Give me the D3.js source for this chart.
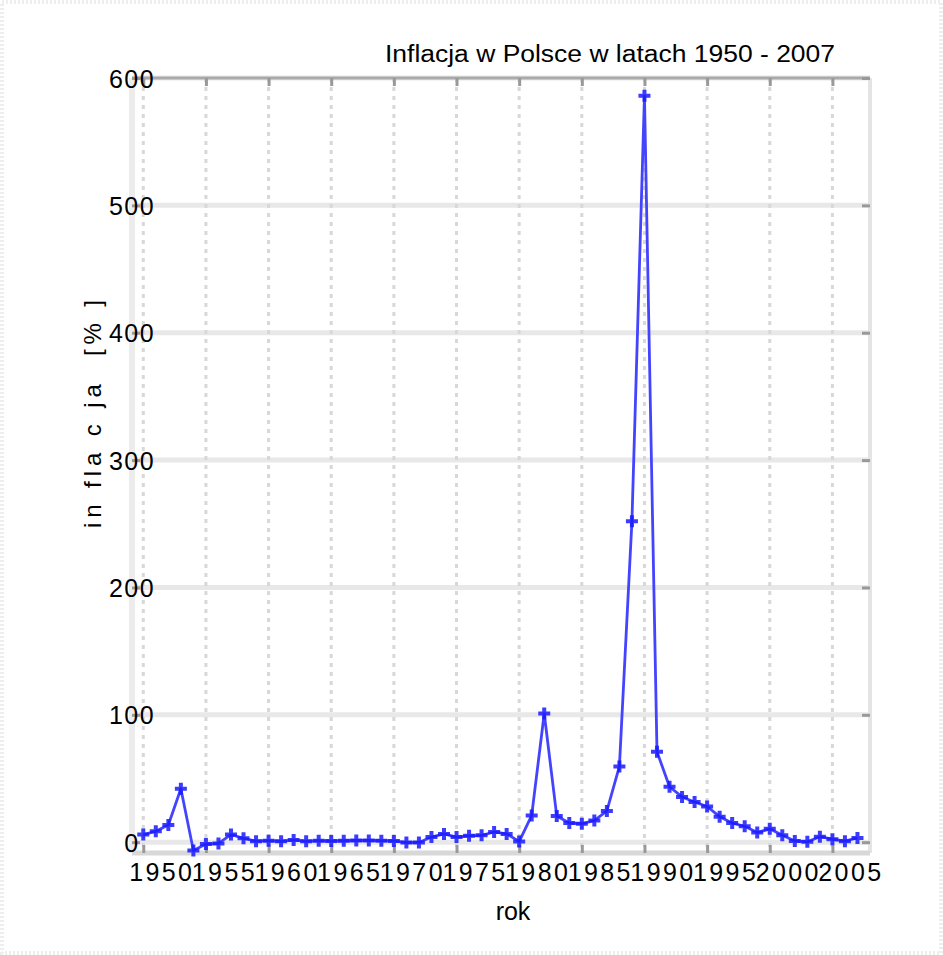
<!DOCTYPE html>
<html lang="pl">
<head>
<meta charset="UTF-8">
<title>Inflacja w Polsce</title>
<script src="https://cdn.jsdelivr.net/npm/d3@7"></script>
<style>
  body { margin: 0; background: #fff; }
  text { font-family: "Liberation Sans", "DejaVu Sans", sans-serif; fill: #000; }
</style>
</head>
<body>
<script>
// data
const years = d3.range(1950, 2008);
const inflation = [
  6, 8.5, 13.5, 42, -6.5, -1.5, -1, 6, 3, 0.8,
  1.2, 0.7, 1.8, 0.7, 1.2, 0.9, 1.1, 1.3, 1.4, 1.2,
  1.0, -0.3, -0.2, 4, 6.5, 4, 5, 5.4, 8, 6.5,
  0.5, 21, 101, 20.5, 15, 14.5, 17, 24.5, 59.5, 252,
  586, 71, 43.5, 35.5, 31.5, 28, 20, 15, 12.5, 7.5,
  10.5, 5.5, 1, 0.3, 4.3, 2.3, 0.8, 3.3
];
const xTicks = d3.range(1950, 2006, 5);
const yTicks = [0, 100, 200, 300, 400, 500, 600];

const title = "Inflacja w Polsce w latach 1950 - 2007";
const xLabel = "rok";
const yLabel = "in fla c ja  [% ]";

const W = 943, H = 955;
const mLeft = 132, mRight = 870, mTop = 78, mBottom = 853;

const svg = d3.select("body").append("svg")
  .attr("width", W).attr("height", H);

// faint dotted frame around the picture
svg.append("rect")
  .attr("x", 2).attr("y", 2).attr("width", W - 4).attr("height", H - 4)
  .attr("fill", "none").attr("stroke", "#eeeeee").attr("stroke-width", 4)
  .attr("stroke-dasharray", "2,2");

const x = d3.scaleLinear().domain([1949.1, 2008]).range([mLeft, mRight]);
const y = d3.scaleLinear().domain([-8.5, 600]).range([mBottom, mTop]);

// grid: horizontal
svg.append("g")
  .selectAll("line").data(yTicks).join("line")
  .attr("x1", mLeft).attr("x2", mRight)
  .attr("y1", d => y(d)).attr("y2", d => y(d))
  .attr("stroke", "#e8e8e8").attr("stroke-width", 5);

// grid: vertical, dashed
svg.append("g")
  .selectAll("line").data(xTicks).join("line")
  .attr("x1", d => x(d)).attr("x2", d => x(d))
  .attr("y1", mTop).attr("y2", mBottom)
  .attr("stroke", "#d8d8d8").attr("stroke-width", 3)
  .attr("stroke-dasharray", "4,5");

// box
svg.append("line").attr("x1", mLeft).attr("x2", mLeft).attr("y1", mTop).attr("y2", mBottom)
  .attr("stroke", "#ececec").attr("stroke-width", 6);
svg.append("line").attr("x1", mRight).attr("x2", mRight).attr("y1", mTop).attr("y2", mBottom)
  .attr("stroke", "#e4e4e4").attr("stroke-width", 4);
svg.append("line").attr("x1", mLeft).attr("x2", mRight).attr("y1", mBottom).attr("y2", mBottom)
  .attr("stroke", "#d8d8d8").attr("stroke-width", 5);
svg.append("line").attr("x1", mLeft).attr("x2", mRight).attr("y1", mTop).attr("y2", mTop)
  .attr("stroke", "#aaaaaa").attr("stroke-width", 3);

// axes (inward ticks like the original)
const xAxis = svg.append("g")
  .attr("transform", `translate(0,${mBottom})`)
  .call(d3.axisBottom(x).tickValues(xTicks).tickFormat(d3.format("d")).tickSize(-8).tickPadding(14));
const xAxisTop = svg.append("g")
  .attr("transform", `translate(0,${mTop})`)
  .call(d3.axisTop(x).tickValues(xTicks).tickSize(-8).tickFormat(""));
const yAxis = svg.append("g")
  .attr("transform", `translate(${mLeft},0)`)
  .call(d3.axisLeft(y).tickValues(yTicks).tickSize(-8));
const yAxisRight = svg.append("g")
  .attr("transform", `translate(${mRight},0)`)
  .call(d3.axisRight(y).tickValues(yTicks).tickSize(-8).tickFormat(""));

[xAxis, xAxisTop, yAxis, yAxisRight].forEach(a => {
  a.select(".domain").remove();
  a.selectAll(".tick line").attr("stroke", "#999").attr("stroke-width", 3);
});

// the year labels sit right of their ticks in the original
xAxis.selectAll("text")
  .attr("font-size", 25).attr("letter-spacing", 2.4)
  .attr("x", 18)
  .attr("dy", "0.55em");

yAxis.selectAll("text")
  .attr("font-size", 25).attr("letter-spacing", 1.5)
  .attr("text-anchor", "middle")
  .attr("x", 0).attr("dy", "0.36em");

// series
svg.append("path")
  .datum(years)
  .attr("fill", "none")
  .attr("stroke", "#4444ff")
  .attr("stroke-width", 2.8)
  .attr("stroke-linejoin", "round")
  .attr("d", d3.line().x(d => x(d)).y((d, i) => y(inflation[i])));

svg.append("g")
  .selectAll("path").data(years).join("path")
  .attr("transform", (d, i) => `translate(${x(d)},${y(inflation[i])})`)
  .attr("d", d3.symbol(d3.symbolCross, 80))
  .attr("fill", "#1a1aff")
  .attr("opacity", 0.85);

// labels
svg.append("text")
  .attr("x", 610).attr("y", 62)
  .attr("text-anchor", "middle")
  .attr("font-size", 23)
  .attr("textLength", 450).attr("lengthAdjust", "spacingAndGlyphs")
  .text(title);

svg.append("text")
  .attr("x", 513).attr("y", 920)
  .attr("text-anchor", "middle")
  .attr("font-size", 25)
  .text(xLabel);

svg.append("text")
  .attr("transform", `translate(101,414) rotate(-90)`)
  .attr("text-anchor", "middle")
  .attr("font-size", 24)
  .attr("textLength", 228).attr("lengthAdjust", "spacing")
  .style("white-space", "pre")
  .text(yLabel);
</script>
</body>
</html>
